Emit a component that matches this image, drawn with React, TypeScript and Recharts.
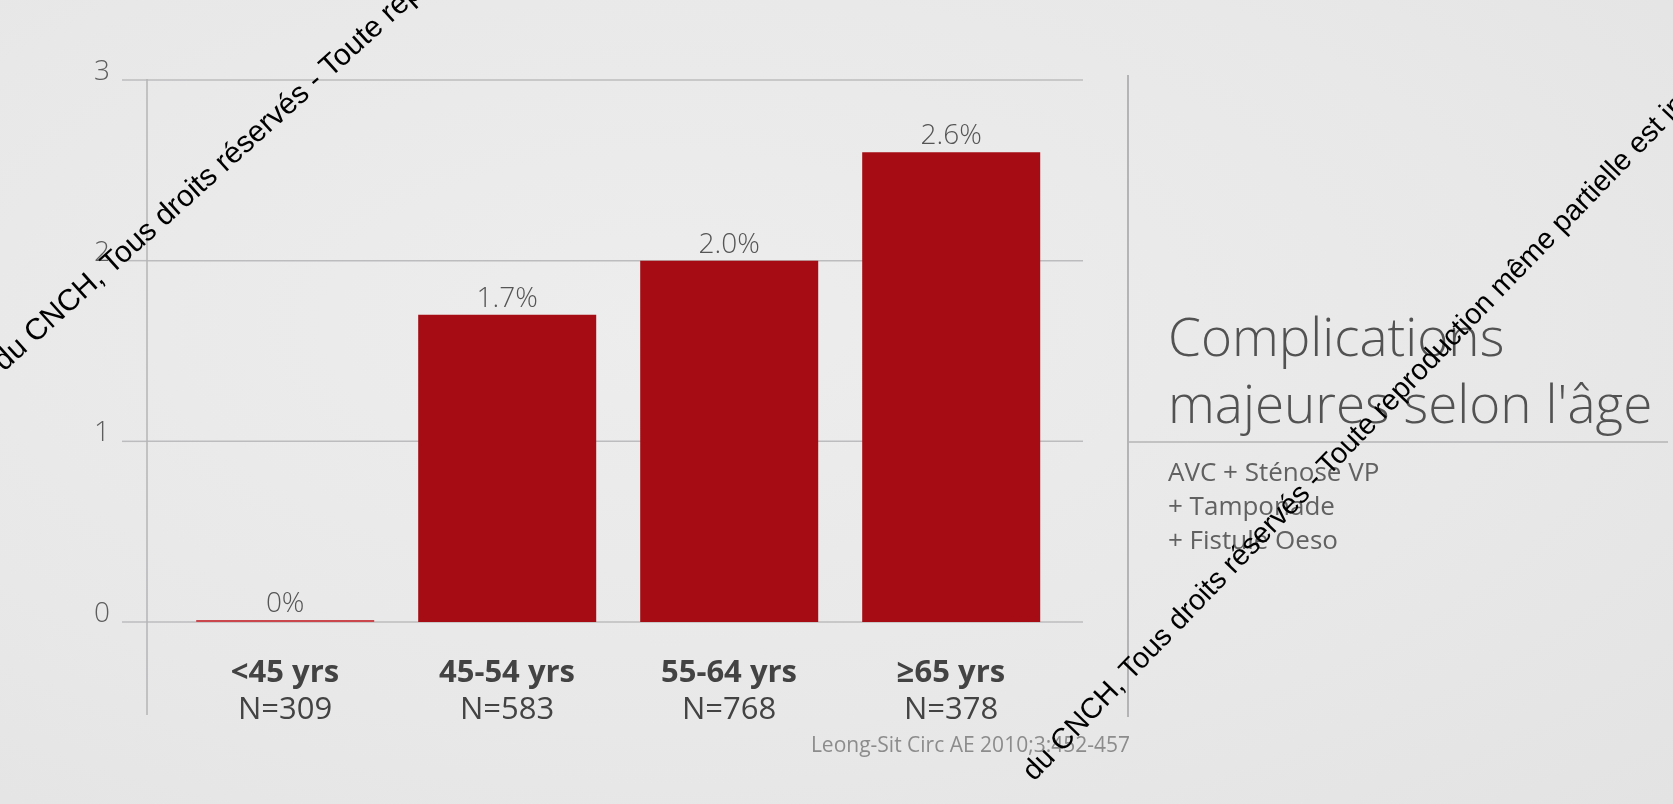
import React from 'react';
import { BarChart, Bar, XAxis, YAxis, CartesianGrid, LabelList, Cell } from 'recharts';

const categories = ['<45 yrs', '45-54 yrs', '55-64 yrs', '≥65 yrs'];
const sampleSizes = ['N=309', 'N=583', 'N=768', 'N=378'];
const complicationRates = [0, 1.7, 2.0, 2.6];
const rateLabels = ['0%', '1.7%', '2.0%', '2.6%'];
const yTicks = [0, 1, 2, 3];
const titleLines = ['Complications', "majeures selon l'âge"];
const subtitleLines = ['AVC + Sténose VP', '+ Tamponade', '+ Fistule Oeso'];
const citation = 'Leong-Sit Circ AE 2010;3:452-457';
const watermark = 'du CNCH, Tous droits réservés - Toute reproduction même partielle est interdite';

const data = categories.map((c, i) => ({
  category: c,
  n: sampleSizes[i],
  rate: complicationRates[i],
  label: rateLabels[i],
}));

const FONT = '"Open Sans", "Noto Sans", sans-serif';
const WM_FONT = '"Liberation Sans", Arial, sans-serif';
const W = 1673;
const H = 804;

const XTick = (props: any) => {
  const { x, y, payload } = props;
  const idx = categories.indexOf(payload.value);
  return (
    <text x={x} y={y + 60} textAnchor="middle" fontFamily={FONT} fontSize={31} fill="#434343">
      <tspan x={x} fontWeight={700}>{payload.value}</tspan>
      <tspan x={x} dy={37} fontWeight={400}>{sampleSizes[idx]}</tspan>
    </text>
  );
};

const YTick = (props: any) => {
  const { x, y, payload } = props;
  return (
    <text x={x - 20} y={y - 11} textAnchor="middle" dominantBaseline="central" fontFamily={FONT} fontWeight={300} fontSize={28} fill="#5e5e5e">
      {payload.value}
    </text>
  );
};

export default function App() {
  return (
    <div
      style={{
        position: 'fixed',
        left: 0,
        top: 0,
        width: W,
        height: H,
        overflow: 'hidden',
        background: 'radial-gradient(ellipse at 40% 40%, #ededee 0%, #e8e8e9 60%, #e3e3e4 100%)',
      }}
    >
      <BarChart
        width={W}
        height={H}
        data={data}
        margin={{ top: 80, right: 590, bottom: 0, left: 0 }}
        barCategoryGap="10%"
      >
        <CartesianGrid horizontal vertical={false} stroke="#bcbcbe" strokeWidth={1.5} />
        <XAxis
          dataKey="category"
          axisLine={false}
          tickLine={false}
          tickSize={0}
          tickMargin={0}
          height={182}
          padding={{ left: 27, right: 21 }}
          tick={<XTick />}
          interval={0}
        />
        <YAxis
          domain={[0, 3]}
          ticks={yTicks}
          width={147}
          axisLine={false}
          tickLine={{ stroke: '#bcbcbe', strokeWidth: 1.5 }}
          tickSize={25}
          tickMargin={0}
          tick={<YTick />}
          interval={0}
        />
        <Bar dataKey="rate" fill="#a60c13" minPointSize={2} isAnimationActive={false}>
          {data.map((d, i) => (
            <Cell key={i} fill={d.rate === 0 ? '#c9474d' : '#a60c13'} />
          ))}
          <LabelList
            dataKey="label"
            position="top"
            offset={8}
            fill="#555"
            fontSize={28}
            fontFamily={FONT}
            fontWeight={300}
          />
        </Bar>
      </BarChart>
      <svg width={W} height={H} style={{ position: 'absolute', left: 0, top: 0, pointerEvents: 'none' }}>
        <line x1={147} y1={79} x2={147} y2={715} stroke="#b4b4b6" strokeWidth={1.5} />
        <line x1={1128} y1={75} x2={1128} y2={717} stroke="#b4b4b6" strokeWidth={2} />
        <line x1={1128} y1={442} x2={1668} y2={442} stroke="#b4b4b6" strokeWidth={1.5} />
        {titleLines.map((t, i) => (
          <text key={t} x={1168} y={356 + i * 67} fontFamily={FONT} fontWeight={300} fontSize={53} fill="#525252">
            {t}
          </text>
        ))}
        {subtitleLines.map((t, i) => (
          <text key={t} x={1168} y={481 + i * 34} fontFamily={FONT} fontWeight={400} fontSize={26} fill="#616161">
            {t}
          </text>
        ))}
        <text x={1130} y={752} textAnchor="end" fontFamily={FONT} fontSize={21} fill="#8c8c8c">
          {citation}
        </text>
        <text x={4} y={372} transform="rotate(-42 4 372)" fontFamily={WM_FONT} fontSize={30} fill="#000">
          {watermark}
        </text>
        <text x={1034} y={782} transform="rotate(-46 1034 782)" fontFamily={WM_FONT} fontSize={29} fill="#000">
          {watermark}
        </text>
      </svg>
    </div>
  );
}
